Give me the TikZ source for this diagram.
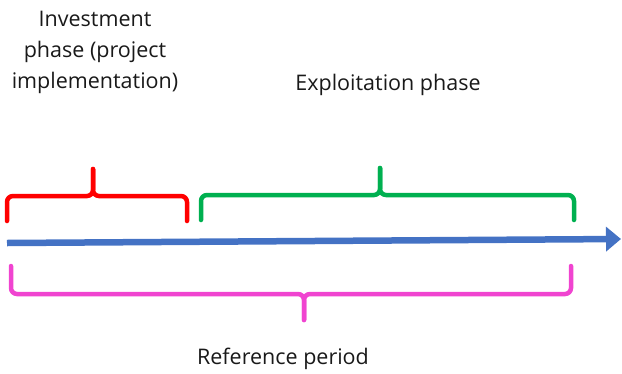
\documentclass[tikz,border=0pt]{standalone}
\usepackage{fontspec}
\setmainfont{Open Sans}
\usetikzlibrary{arrows.meta, positioning}
\definecolor{phasered}{HTML}{FF0000}
\definecolor{phasegreen}{HTML}{00B050}
\definecolor{timeblue}{HTML}{4472C4}
\definecolor{refpink}{HTML}{F044D0}

\tikzset{
  label text/.style={font=\fontsize{21.5}{31}\selectfont, text=black!90, align=center, inner sep=0pt},
  bracket/.style={line width=4.5pt, rounded corners=6pt, line cap=round}
}

\begin{document}
\begin{tikzpicture}[x=1pt, y=-1pt]
  % canvas
  \useasboundingbox (0,0) rectangle (622,373);

  % Labels
  \node[label text] (invest) at (95,52) {Investment\\phase (project\\implementation)};
  \node[label text] (exploit) at (388,85) {Exploitation phase};
  \node[label text] (refper) at (283,359) {Reference period};

  % Time axis
  \coordinate (tstart) at (7,243);
  \coordinate (tend) at (621,239);
  \draw[timeblue, line width=6.5pt, -{Triangle[length=15pt, width=24pt]}] (tstart) -- (tend);

  % Investment bracket
  \draw[bracket, phasered] (7,221) |- (93,196) -- (93,169);
  \draw[bracket, phasered] (187,221) |- (93,196) -- (93,169);

  % Exploitation bracket
  \draw[bracket, phasegreen] (201,220) |- (380,195) -- (380,168);
  \draw[bracket, phasegreen] (574,220) |- (380,195) -- (380,168);

  % Reference bracket
  \draw[bracket, refpink] (11,266) |- (304,294) -- (304,320);
  \draw[bracket, refpink] (571,266) |- (304,294) -- (304,320);
\end{tikzpicture}
\end{document}
